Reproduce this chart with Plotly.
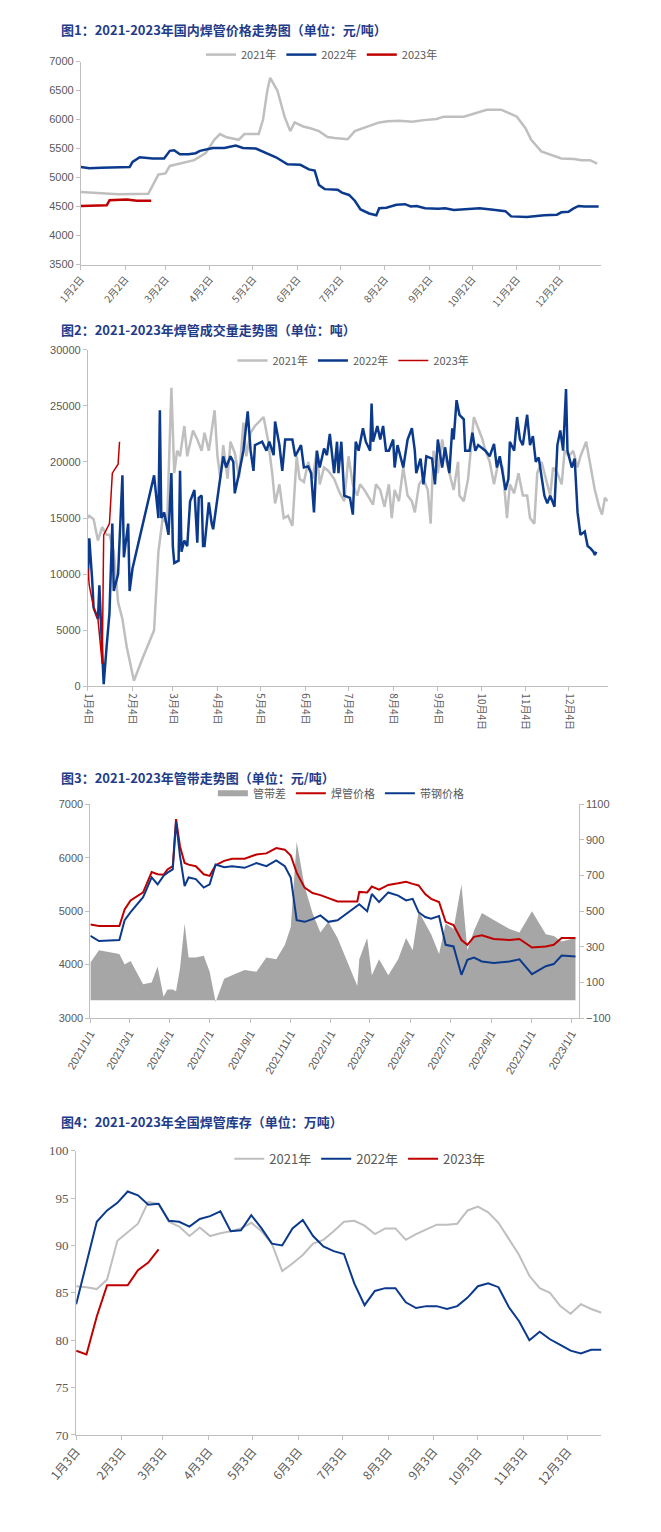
import pandas as pd
import plotly.graph_objects as go

# ---- 图1 焊管价格 (plotted on a common month-day axis, year 2022) ----
p1_dates_2021 = ["01-02", "01-17", "01-28", "02-18", "02-22", "02-25", "03-02", "03-05", "03-10", "03-22",
                 "03-30", "04-05", "04-09", "04-13", "04-22", "04-26", "05-06", "05-09", "05-12", "05-14",
                 "05-19", "05-24", "05-28", "05-31", "06-06", "06-11", "06-17", "06-23", "06-28", "07-07",
                 "07-12", "07-21", "07-29", "08-04", "08-12", "08-21", "08-29", "09-07", "09-12", "09-26",
                 "10-05", "10-12", "10-22", "10-29", "11-02", "11-08", "11-12", "11-19", "11-28", "12-03",
                 "12-12", "12-17", "12-23", "12-28"]
p1_vals_2021 = [4750, 4720, 4710, 4720, 4900, 5050, 5070, 5200, 5230, 5300,
                5420, 5650, 5750, 5700, 5650, 5750, 5750, 6000, 6500, 6720,
                6500, 6050, 5800, 5950, 5880, 5850, 5800, 5700, 5680, 5660,
                5800, 5880, 5950, 5970, 5980, 5960, 5990, 6010, 6050, 6050,
                6120, 6170, 6170, 6100, 6050, 5850, 5650, 5450, 5380, 5330,
                5320, 5300, 5300, 5240]
p1_dates_2022 = ["01-02", "01-08", "01-16", "01-25", "02-05", "02-07", "02-12", "02-21", "03-01", "03-05",
                 "03-08", "03-12", "03-18", "03-23", "03-26", "04-04", "04-12", "04-20", "04-25", "05-04",
                 "05-10", "05-18", "05-26", "06-04", "06-10", "06-14", "06-17", "06-21", "06-30", "07-03",
                 "07-08", "07-12", "07-16", "07-22", "07-27", "07-29", "08-03", "08-10", "08-16", "08-20",
                 "08-24", "08-30", "09-08", "09-13", "09-19", "09-24", "10-07", "10-15", "10-25", "10-29",
                 "11-09", "11-21", "11-30", "12-03", "12-08", "12-11", "12-15", "12-19", "12-29"]
p1_vals_2022 = [5180, 5160, 5170, 5180, 5180, 5270, 5350, 5330, 5330, 5460,
                5470, 5400, 5400, 5420, 5460, 5510, 5510, 5550, 5510, 5500,
                5430, 5350, 5230, 5220, 5140, 5120, 4870, 4800, 4790, 4740,
                4700, 4600, 4450, 4380, 4350, 4470, 4480, 4530, 4540, 4500,
                4510, 4470, 4460, 4470, 4440, 4450, 4470, 4450, 4420, 4330,
                4320, 4350, 4360, 4400, 4410, 4460, 4510, 4500, 4500]
p1_dates_2023 = ["01-02", "01-20", "01-22", "02-03", "02-10", "02-20"]
p1_vals_2023 = [4510, 4520, 4610, 4620, 4600, 4600]
p1_ticks = ["01-02", "02-02", "03-02", "04-02", "05-02", "06-02", "07-02", "08-02", "09-02", "10-02", "11-02", "12-02"]
p1_ticktext = [f"{int(m[:2])}月2日" for m in p1_ticks]

# ---- 图2 成交量 (day offsets from Jan 4) ----
p2_days_2021 = [0, 1, 4, 7, 10, 13, 15, 18, 21, 24, 27, 32, 38, 46, 49, 52, 55, 58, 60, 62, 64, 67, 69, 73, 76, 79, 81,
                84, 88, 90, 92, 94, 97, 99, 102, 105, 108, 110, 113, 116, 122, 125, 128, 130, 133, 136, 139, 142, 145,
                147, 150, 153, 156, 159, 161, 164, 167, 171, 175, 178, 181, 184, 187, 189, 192, 195, 198, 200, 203,
                206, 209, 211, 213, 216, 219, 222, 225, 227, 230, 233, 236, 238, 240, 243, 246, 248, 251, 254, 257,
                258, 261, 264, 268, 271, 274, 276, 279, 282, 285, 288, 291, 293, 296, 299, 302, 305, 307, 310, 312,
                315, 318, 321, 323, 326, 329, 331, 334, 337, 340, 342, 346, 349, 352, 355, 357, 359, 361]
p2_vals_2021 = [15000, 15200, 14900, 13000, 14200, 13500, 13500, 12000, 7500, 6000, 3500, 500, 2500, 5000, 12000,
                15000, 14500, 26600, 19000, 21000, 20500, 23200, 20500, 22800, 22000, 21000, 22600, 21000, 24600,
                20500, 18500, 21500, 18500, 21800, 20800, 18600, 23500, 20500, 22600, 23200, 24000, 22000, 19000,
                16300, 18000, 15000, 15200, 14300, 20500, 18500, 18200, 20000, 18500, 21000, 18000, 19500, 19200,
                18500, 17200, 16500, 20500, 18000, 17000, 18000, 17500, 16800, 16200, 18000, 17500, 16000, 18000,
                15000, 17500, 16500, 19500, 17000, 16500, 15500, 18000, 18500, 17500, 14500, 21000, 19000, 22000,
                20500, 19000, 17500, 20000, 17000, 16500, 18500, 24000, 23000, 22000, 21000, 20000, 18000, 20000,
                19500, 15000, 18000, 17200, 19000, 17000, 17000, 15000, 14500, 19000, 20000, 18500, 17000, 19500,
                19000, 18000, 21000, 20500, 21000, 19500, 20500, 21800, 19500, 17500, 16000, 15300, 16800, 16500]
p2_days_2022 = [0, 1, 3, 4, 7, 8, 10, 11, 13, 15, 17, 18, 21, 24, 25, 28, 29, 31, 46, 49, 50, 51, 53, 56, 58, 59, 60,
                63, 64, 65, 67, 69, 71, 74, 76, 77, 79, 80, 81, 84, 86, 87, 90, 93, 94, 96, 99, 101, 102, 105, 108,
                111, 113, 115, 116, 121, 124, 126, 129, 130, 133, 135, 137, 142, 144, 148, 150, 153, 155, 157, 159,
                161, 164, 166, 168, 171, 173, 174, 176, 178, 182, 184, 186, 188, 191, 193, 196, 197, 198, 201, 203,
                205, 207, 209, 212, 213, 215, 219, 222, 225, 227, 228, 231, 233, 235, 239, 241, 243, 246, 248, 251,
                253, 254, 256, 258, 261, 262, 265, 267, 269, 271, 276, 279, 282, 284, 286, 290, 292, 293, 296, 298,
                300, 302, 305, 307, 309, 311, 313, 315, 317, 319, 321, 324, 326, 328, 330, 332, 333, 336, 338, 340,
                342, 345, 347, 349, 351, 352, 353]
p2_vals_2022 = [9500, 13200, 9500, 7000, 6000, 9000, 3000, 200, 3500, 6500, 14500, 8500, 10000, 18800, 11500, 14500,
                8500, 10500, 18800, 15000, 24600, 15000, 15500, 13500, 19000, 12500, 11000, 11200, 19200, 12000,
                13000, 12500, 16500, 17500, 12800, 16800, 17000, 12500, 12500, 16400, 14500, 14000, 16800, 19500,
                20500, 19500, 20500, 20000, 17200, 19000, 21000, 24500, 21000, 19200, 21500, 21800, 21000, 21800,
                20600, 23600, 21500, 19200, 22000, 22000, 20500, 21500, 19500, 19600, 19000, 15500, 21000, 19500,
                21200, 20600, 22500, 19000, 21800, 19000, 21800, 17000, 16800, 15300, 21800, 21000, 23000, 21800,
                21000, 25200, 21800, 23200, 22000, 23200, 21000, 21000, 22000, 19500, 21500, 19500, 22000, 23000,
                21000, 19000, 20300, 18000, 20500, 20300, 18000, 22000, 19500, 21300, 19000, 23000, 22000, 25500,
                24200, 23800, 21000, 21000, 22600, 21000, 21500, 21000, 20500, 21600, 19500, 20500, 17500, 18500,
                21800, 21000, 24000, 22000, 21500, 24200, 21500, 22300, 20000, 20400, 18500, 17000, 16300, 17000,
                16000, 21500, 22800, 21000, 26500, 21000, 19500, 20300, 15500, 13500, 13800, 12500, 12300, 12000,
                11700, 12000]
p2_days_2023 = [0, 1, 4, 7, 10, 11, 15, 17, 21, 22]
p2_vals_2023 = [10500, 9000, 7000, 6000, 2000, 13500, 14500, 19000, 19800, 21800]
p2_ticks = ["01-04", "02-04", "03-04", "04-04", "05-04", "06-04", "07-04", "08-04", "09-04", "10-04", "11-04", "12-04"]
p2_ticktext = [f"{int(m[:2])}月4日" for m in p2_ticks]

# ---- 图3 管带 ----
p3_dates = ["2021-01-01", "2021-01-14", "2021-02-14", "2021-02-22", "2021-03-03", "2021-03-22", "2021-04-04",
            "2021-04-13", "2021-04-22", "2021-04-28", "2021-05-06", "2021-05-11", "2021-05-17", "2021-05-24",
            "2021-05-30", "2021-06-10", "2021-06-22", "2021-07-01", "2021-07-10", "2021-07-23", "2021-08-04",
            "2021-08-23", "2021-09-10", "2021-09-25", "2021-10-10", "2021-10-23", "2021-11-01", "2021-11-10",
            "2021-11-22", "2021-12-04", "2021-12-16", "2021-12-28", "2022-01-11", "2022-02-10", "2022-02-13",
            "2022-02-25", "2022-03-04", "2022-03-15", "2022-03-29", "2022-04-13", "2022-04-25", "2022-05-05",
            "2022-05-14", "2022-05-24", "2022-06-02", "2022-06-14", "2022-06-24", "2022-07-06", "2022-07-18",
            "2022-07-27", "2022-08-06", "2022-08-18", "2022-09-05", "2022-09-29", "2022-10-14", "2022-11-02",
            "2022-11-23", "2022-12-05", "2022-12-17", "2023-01-07"]
p3_pipe = [4750, 4720, 4720, 5030, 5200, 5350, 5730, 5690, 5680, 5780, 5840, 6720, 6210, 5900, 5870, 5840, 5690,
           5660, 5860, 5940, 5980, 5980, 6060, 6080, 6180, 6150, 6040, 5720, 5440, 5340, 5300, 5240, 5180, 5180,
           5360, 5350, 5460, 5400, 5490, 5520, 5550, 5510, 5480, 5320, 5230, 5170, 4800, 4740, 4460, 4370, 4520,
           4550, 4480, 4460, 4480, 4320, 4340, 4370, 4500, 4500]
p3_strip = [4540, 4440, 4460, 4830, 4980, 5260, 5630, 5500, 5660, 5720, 5780, 6670, 6030, 5470, 5630, 5600, 5440,
            5500, 5870, 5820, 5840, 5810, 5900, 5840, 5950, 5840, 5630, 4830, 4800, 4850, 4920, 4800, 4830, 5100,
            5130, 5000, 5320, 5170, 5350, 5290, 5200, 5230, 4980, 4890, 4860, 4910, 4370, 4340, 3810, 4090, 4130,
            4060, 4030, 4060, 4100, 3820, 3970, 4010, 4170, 4150]
p3_ticks = ["2021-01-01", "2021-03-01", "2021-05-01", "2021-07-01", "2021-09-01", "2021-11-01", "2022-01-01",
            "2022-03-01", "2022-05-01", "2022-07-01", "2022-09-01", "2022-11-01", "2023-01-01"]
p3_ticktext = [f"{d[:4]}/{int(d[5:7])}/1" for d in p3_ticks]

# ---- 图4 库存 (weekly) ----
p4_2021 = [85.7, 85.6, 85.4, 86.4, 90.5, 91.4, 92.3, 94.6, 94.4, 92.5, 92.0, 91.0, 91.9, 91.0, 91.3, 91.5, 91.8,
           92.4, 91.5, 90.2, 87.3, 88.1, 89.0, 90.2, 90.6, 91.5, 92.5, 92.6, 92.1, 91.2, 91.8, 91.8, 90.6, 91.2,
           91.7, 92.2, 92.2, 92.3, 93.7, 94.1, 93.5, 92.4, 90.7, 89.0, 86.8, 85.5, 85.0, 83.6, 82.8, 83.8, 83.3, 82.9]
p4_2022 = [83.8, 88.0, 92.5, 93.7, 94.5, 95.7, 95.3, 94.3, 94.4, 92.6, 92.5, 92.0, 92.8, 93.1, 93.6, 91.5, 91.6,
           93.2, 91.8, 90.2, 90.0, 91.8, 92.7, 91.0, 89.9, 89.4, 89.1, 86.0, 83.7, 85.2, 85.5, 85.5, 84.0, 83.4,
           83.6, 83.6, 83.3, 83.6, 84.5, 85.7, 86.0, 85.6, 83.5, 82.0, 80.0, 80.9, 80.1, 79.5, 78.9, 78.6, 79.0, 79.0]
p4_2023 = [78.9, 78.5, 82.5, 85.8, 85.8, 85.8, 87.4, 88.2, 89.6]
p4_ticks = ["01-03", "02-03", "03-03", "04-03", "05-03", "06-03", "07-03", "08-03", "09-03", "10-03", "11-03", "12-03"]
p4_ticktext = [f"{int(m[:2])}月3日" for m in p4_ticks]

GREY, BLUE, RED = "#bfbfbf", "#0b3a8c", "#c00000"
FONT = "Noto Sans CJK SC"
H = 1532


def md(lst):
    return ["2022-" + m for m in lst]


def offs(days):
    return [pd.Timestamp("2022-01-04") + pd.Timedelta(days=d) for d in days]


def line(x, y, name, color, width, xa, ya, lg):
    return go.Scatter(x=x, y=y, name=name, mode="lines", line=dict(color=color, width=width),
                      xaxis=xa, yaxis=ya, legend=lg)


weeks = pd.date_range("2022-01-03", periods=52, freq="7D")

fig = go.Figure()
# panel 1
fig.add_trace(line(md(p1_dates_2021), p1_vals_2021, "2021年", GREY, 2.5, "x", "y", "legend"))
fig.add_trace(line(md(p1_dates_2022), p1_vals_2022, "2022年", BLUE, 2.5, "x", "y", "legend"))
fig.add_trace(line(md(p1_dates_2023), p1_vals_2023, "2023年", RED, 2.5, "x", "y", "legend"))
# panel 2
fig.add_trace(line(offs(p2_days_2021), p2_vals_2021, "2021年", GREY, 2.5, "x2", "y2", "legend2"))
fig.add_trace(line(offs(p2_days_2022), p2_vals_2022, "2022年", BLUE, 2.5, "x2", "y2", "legend2"))
fig.add_trace(line(offs(p2_days_2023), p2_vals_2023, "2023年", RED, 1.5, "x2", "y2", "legend2"))
# panel 3: area on the primary (right) axis, price lines on the overlaying (left) axis so they draw on top
diff = [a - b for a, b in zip(p3_pipe, p3_strip)]
fig.add_trace(go.Scatter(x=p3_dates, y=diff, name="管带差", fill="tozeroy", mode="none", fillcolor="#a6a6a6",
                         xaxis="x3", yaxis="y3", legend="legend3"))
fig.add_trace(line(p3_dates, p3_pipe, "焊管价格", RED, 2, "x3", "y5", "legend3"))
fig.add_trace(line(p3_dates, p3_strip, "带钢价格", BLUE, 2, "x3", "y5", "legend3"))
# panel 4
fig.add_trace(line(weeks, p4_2021, "2021年", GREY, 2, "x4", "y4", "legend4"))
fig.add_trace(line(weeks, p4_2022, "2022年", BLUE, 2, "x4", "y4", "legend4"))
fig.add_trace(line(weeks[:len(p4_2023)], p4_2023, "2023年", RED, 2, "x4", "y4", "legend4"))


def py(px):
    return 1 - px / H


tickf = dict(color="#595959", size=11, family="Liberation Sans")
yax = dict(showgrid=False, zeroline=False, showline=True, linecolor="#bfbfbf", ticks="outside",
           tickcolor="#bfbfbf", ticklen=4, tickfont=tickf, tickformat="d")
xax = dict(type="date", showgrid=False, zeroline=False, showline=True, linecolor="#bfbfbf", ticks="outside",
           tickcolor="#bfbfbf", ticklen=4, tickfont=dict(color="#595959", size=10, family=FONT))

leg = dict(orientation="h", xanchor="center", yanchor="middle", font=dict(size=11, color="#595959", family=FONT),
           bgcolor="rgba(0,0,0,0)", itemwidth=30, tracegroupgap=0)

fig.update_layout(
    width=661, height=H, margin=dict(l=0, r=0, t=0, b=0),
    paper_bgcolor="white", plot_bgcolor="white", showlegend=True,
    xaxis=dict(xax, domain=[0.068, 0.893], anchor="y", range=["2022-01-02", "2022-12-31"],
               tickvals=md(p1_ticks), ticktext=p1_ticktext, tickangle=-50),
    yaxis=dict(yax, domain=[py(252), py(47)], anchor="x", range=[3500, 7000], dtick=500),
    xaxis2=dict(xax, domain=[0.079, 0.903], anchor="y2", range=["2022-01-04", "2022-12-31"],
                tickvals=md(p2_ticks), ticktext=p2_ticktext, tickangle=90),
    yaxis2=dict(yax, domain=[py(678), py(338)], anchor="x2", range=[0, 30000], dtick=5000),
    xaxis3=dict(xax, domain=[0.083, 0.857], anchor="y3", range=["2021-01-01", "2023-01-12"],
                tickvals=p3_ticks, ticktext=p3_ticktext, tickangle=-60,
                tickfont=dict(color="#595959", size=11, family="Liberation Sans")),
    yaxis3=dict(yax, domain=[py(1013), py(797)], anchor="x3", side="right", range=[-100, 1100],
                tickvals=[-100, 100, 300, 500, 700, 900, 1100]),
    yaxis5=dict(yax, overlaying="y3", side="left", anchor="x3", range=[3000, 7000], dtick=1000),
    xaxis4=dict(xax, domain=[0.0605, 0.893], anchor="y4", range=["2022-01-03", "2022-12-26"],
                tickvals=md(p4_ticks), ticktext=p4_ticktext, tickangle=-50,
                tickfont=dict(color="#595959", size=12, family=FONT)),
    yaxis4=dict(yax, domain=[py(1434), py(1147)], anchor="x4", range=[70, 100], dtick=5,
                tickfont=dict(color="#595959", size=13, family="Liberation Sans Narrow")),
    legend=dict(leg, x=0.45, y=py(40)),
    legend2=dict(leg, x=0.5, y=py(349)),
    legend3=dict(leg, x=0.48, y=py(786)),
    legend4=dict(leg, x=0.51, y=py(1155), font=dict(size=13, color="#595959", family=FONT)),
)

titles = [
    (15, "图1：2021-2023年国内焊管价格走势图（单位：元/吨）"),
    (318, "图2：2021-2023年焊管成交量走势图（单位：吨）"),
    (770, "图3：2021-2023年管带走势图（单位：元/吨）"),
    (1117, "图4：2021-2023年全国焊管库存（单位：万吨）"),
]
for ypx, t in titles:
    fig.add_annotation(text=f"<b>{t}</b>", x=22 / 661, y=py(ypx), xref="paper", yref="paper",
                       xanchor="left", yanchor="middle", showarrow=False,
                       font=dict(size=13, color="#1f3c88", family=FONT))

fig.write_html("out.html")
